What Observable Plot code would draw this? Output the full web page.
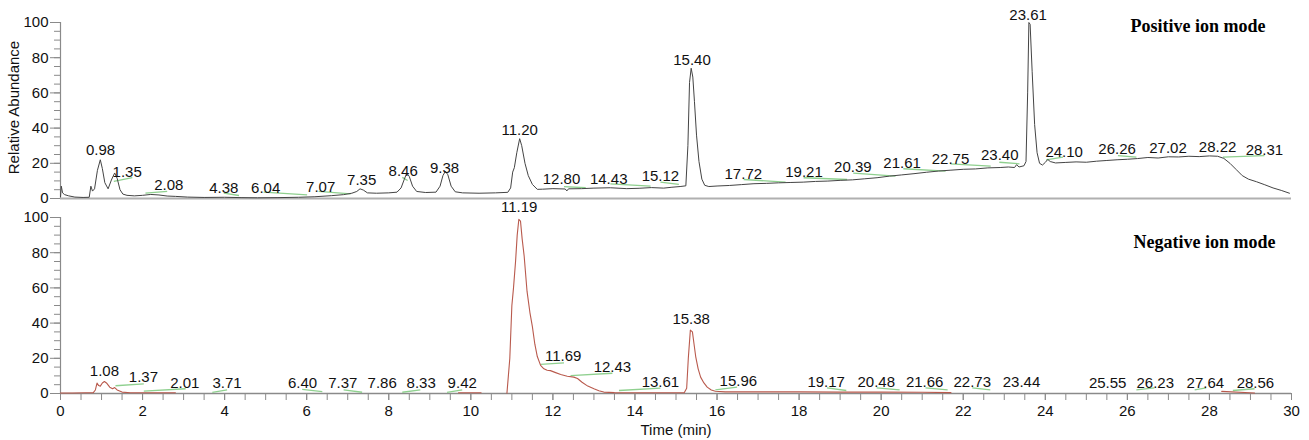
<!DOCTYPE html>
<html><head><meta charset="utf-8">
<script src="https://cdn.jsdelivr.net/npm/d3@7"></script>
<script src="https://cdn.jsdelivr.net/npm/@observablehq/plot@0.6"></script>
<style>
body{margin:0;background:#fff;}
#chart{position:relative;width:1309px;height:440px;}
#chart svg{position:absolute;left:0;overflow:visible;}
</style></head><body><div id="chart"></div>
<script>
// ---------- Positive ion mode trace ----------
const posTime = [0.00,0.02,0.05,0.10,0.20,0.35,0.55,0.70,0.74,0.78,0.83,0.90,0.97,1.02,1.08,1.16,1.24,1.32,1.38,1.45,1.52,1.62,1.80,2.00,2.20,2.40,2.60,2.80,3.10,3.50,4.00,4.40,4.80,5.30,5.80,6.20,6.60,6.90,7.10,7.22,7.30,7.38,7.48,7.70,8.00,8.20,8.30,8.38,8.44,8.50,8.58,8.68,8.90,9.15,9.25,9.32,9.38,9.44,9.52,9.62,9.80,10.20,10.60,10.90,10.97,11.02,11.06,11.12,11.19,11.24,11.32,11.40,11.50,11.62,11.75,12.00,12.30,12.34,12.38,12.70,13.00,13.40,13.80,14.10,14.40,14.70,14.90,15.10,15.24,15.29,15.33,15.37,15.41,15.45,15.50,15.56,15.63,15.70,15.80,16.00,16.30,16.60,16.90,17.20,17.50,17.80,18.10,18.40,18.70,19.00,19.30,19.60,19.90,20.20,20.50,20.80,21.10,21.40,21.70,22.00,22.30,22.60,22.90,23.10,23.25,23.30,23.36,23.48,23.53,23.57,23.60,23.63,23.68,23.74,23.80,23.86,23.93,24.00,24.06,24.12,24.25,24.50,24.75,25.00,25.25,25.50,25.75,26.00,26.25,26.50,26.75,27.00,27.25,27.50,27.75,28.00,28.20,28.35,28.50,28.65,28.80,28.95,29.15,29.35,29.55,29.75,29.95];
const posAbund = [1.0,7.0,3.2,2.2,1.5,0.8,0.6,0.7,7.0,4.2,5.5,16.0,22.0,17.0,9.0,5.5,10.5,14.5,11.5,5.0,2.5,1.8,1.5,1.8,2.3,2.0,1.4,1.2,0.8,0.6,0.7,0.5,0.4,0.5,0.7,1.0,1.6,2.2,3.0,4.0,5.5,4.8,3.2,3.0,3.2,3.6,6.0,11.0,14.5,12.5,7.0,4.0,3.4,3.6,7.0,13.0,15.5,13.5,7.0,3.8,3.2,3.0,3.2,3.5,6.0,15.0,17.5,26.0,34.0,30.0,20.0,13.0,8.0,5.2,5.3,5.6,5.4,4.3,5.5,5.6,5.9,6.1,5.6,5.8,6.2,5.9,6.4,6.8,7.2,30.0,66.0,74.0,69.0,55.0,36.0,21.0,11.0,7.5,6.8,7.1,7.4,7.9,8.4,8.6,8.9,9.1,9.3,9.7,9.9,10.3,10.6,11.2,11.8,12.7,13.4,14.1,14.9,15.6,16.1,16.6,16.8,17.4,17.6,17.9,17.6,19.2,17.9,18.6,21.0,60.0,100.0,99.0,72.0,42.0,26.0,20.0,19.0,20.5,22.2,21.0,20.2,20.5,20.8,20.6,21.2,21.6,22.0,22.3,22.7,23.3,23.0,23.7,23.6,24.0,23.8,24.2,24.0,22.8,20.0,16.5,13.0,11.0,9.5,7.8,6.0,4.6,3.0];

// ---------- Negative ion mode trace (NaN = trace not drawn) ----------
const negTime = [0.00,0.30,0.60,0.80,0.85,0.89,0.93,0.97,1.02,1.07,1.12,1.20,1.27,1.32,1.38,1.50,1.70,2.20,2.80,2.85,9.70,10.25,10.30,10.88,10.95,11.00,11.04,11.09,11.13,11.17,11.21,11.25,11.30,11.37,11.44,11.50,11.56,11.62,11.70,11.78,11.86,11.94,12.05,12.19,12.35,12.51,12.60,12.71,12.85,13.00,13.12,13.24,13.50,14.00,15.20,15.26,15.30,15.35,15.40,15.44,15.48,15.54,15.60,15.68,15.76,15.86,15.96,16.20,17.00,18.00,19.00,20.00,21.00,21.70,21.75,28.30,29.10];
const negAbund = [0.3,0.3,0.4,0.5,2.0,5.9,4.5,4.2,6.0,6.8,6.0,3.6,2.7,3.4,2.0,0.8,0.4,0.4,0.4,NaN,0.4,0.4,NaN,0.2,20,50,60,75,90,99,98,88,78,58,46,38,28,21,16,14,13.2,13.0,12.0,10.8,9.8,9.3,8.5,6.4,4.2,2.7,1.6,0.8,0.5,0.4,0.4,3,20,36,35,28,21,14,9.3,6,3.6,2,1.3,0.9,0.9,0.9,0.8,0.8,0.7,0.5,NaN,1.2,0.3];

// ---------- Peak labels (text, anchor time, anchor abundance) ----------
const posLabels = ["0.98","1.35","2.08","4.38","6.04","7.07","7.35","8.46","9.38","11.20","12.80","14.43","15.12","15.40","17.72","19.21","20.39","21.61","22.75","23.40","23.61","24.10","26.26","27.02","28.22","28.31"];
const posLabelT = [0.975,1.625,2.64,3.98,5.0,6.34,7.34,8.35,9.36,11.19,12.21,13.36,14.62,15.39,16.64,18.12,19.31,20.51,21.69,22.89,23.58,24.46,25.75,26.99,28.2,29.34];
const posLabelV = [27.3,14.8,7.6,6.1,6.1,6.3,10.5,15.5,17.4,38.9,10.8,10.8,12.5,78.8,13.6,14.8,17.6,20.3,22.6,24.4,104.4,26.3,27.8,28.8,29.0,27.4];

const negLabels = ["1.08","1.37","2.01","3.71","6.40","7.37","7.86","8.33","9.42","11.19","11.69","12.43","13.61","15.38","15.96","19.17","20.48","21.66","22.73","23.44","25.55","26.23","27.64","28.56"];
const negLabelT = [1.07,2.02,3.03,4.06,5.9,6.88,7.84,8.79,9.79,11.18,12.25,13.45,14.62,15.37,16.52,18.66,19.88,21.06,22.22,23.42,25.52,26.68,27.9,29.12];
const negLabelV = [12.5,9.1,5.9,5.9,5.9,5.9,5.9,5.9,5.9,105.6,21.0,14.8,6.25,42.0,6.8,6.25,6.25,6.25,6.25,6.25,6.0,6.0,6.0,6.0];

// ---------- Green label connector segments ----------
const posSegT1 = [1.30,2.07,3.98,4.95,6.29,8.33,12.27,13.40,14.62,16.65,18.11,19.32,20.54,21.69,22.88,24.02,25.77,28.33];
const posSegV1 = [9.7,3.0,3.0,3.6,4.0,12.0,6.8,8.3,9.3,10.8,11.8,14.4,16.9,19.7,20.6,22.0,24.4,23.5];
const posSegT2 = [1.75,2.60,4.35,6.01,7.07,8.46,12.80,14.38,15.07,17.67,19.17,20.35,21.57,22.67,23.37,24.43,26.22,29.34];
const posSegV2 = [11.8,4.1,1.7,2.1,2.6,10.2,6.1,7.0,8.0,9.3,10.8,12.7,15.5,18.4,19.7,23.5,23.5,24.4];

const negSegT1 = [1.34,2.03,3.70,5.89,6.90,8.33,9.42,11.70,12.43,13.61,15.96,18.68,19.89,21.08,22.22,26.22,27.64,28.57];
const negSegV1 = [4.4,1.3,0.7,2.3,2.1,0.7,0.7,16.5,10.2,1.7,2.1,3.2,3.2,3.2,3.2,2.1,2.1,1.7];
const negSegT2 = [2.03,3.05,4.06,6.38,7.35,8.77,9.79,12.27,13.45,14.62,16.49,19.15,20.45,21.62,22.66,26.66,27.92,29.10];
const negSegV2 = [5.5,2.7,2.1,1.1,0.7,2.1,2.1,17.4,11.5,3.0,3.6,1.7,2.1,2.1,2.1,3.2,3.2,2.7];

const yMinorTicks = d3.range(0, 101, 5);
const yMajorTicks = d3.range(0, 101, 20);
const xMinorTicks = d3.range(0, 30.001, 0.5);
const xMajorTicks = d3.range(0, 31, 2);

const SANS = "'Liberation Sans', Arial, Helvetica, sans-serif";
const SERIF = "'Liberation Serif', 'Times New Roman', serif";
const AXIS = "#8a8a8a";
const INK = "#111";
const GREEN = "#8fd08f";
const FS = 15;

const common = {
  width: 1309, marginLeft: 60, marginRight: 18,
  x: {domain: [0, 30], axis: null},
  y: {domain: [0, 100], axis: null},
  style: {fontFamily: SANS, fontSize: FS + "px", color: INK, background: "transparent", overflow: "visible"}
};

function yAxes() {
  return [
    Plot.axisY(yMinorTicks, {tickSize: 6, tickFormat: () => "", stroke: AXIS, label: null}),
    Plot.axisY(yMajorTicks, {tickSize: 10, tickPadding: 2, stroke: AXIS, fill: INK, fontSize: FS, label: null}),
    Plot.ruleX([0], {stroke: AXIS, strokeWidth: 1.2})
  ];
}

const topPlot = Plot.plot({
  ...common, height: 210, marginTop: 22, marginBottom: 12,
  marks: [
    ...yAxes(),
    Plot.ruleY([0], {stroke: "#b0b0b0", strokeWidth: 2}),
    Plot.link(posSegT1, {x1: posSegT1, y1: posSegV1, x2: posSegT2, y2: posSegV2, stroke: GREEN, strokeWidth: 1.3}),
    Plot.line(posTime, {x: posTime, y: posAbund, stroke: "#444", strokeWidth: 1}),
    Plot.text(posLabels, {x: posLabelT, y: posLabelV, text: d => d, fill: INK, fontSize: FS}),
    Plot.text(["Relative Abundance"], {frameAnchor: "left", textAnchor: "middle", lineAnchor: "middle", rotate: -90, dx: -46, dy: -3, fill: INK, fontSize: FS}),
    Plot.text(["Positive ion mode"], {frameAnchor: "top-right", textAnchor: "end", lineAnchor: "middle", dx: -26, dy: 4, fontFamily: SERIF, fontWeight: "bold", fontSize: 18, fill: "#000"})
  ]
});
topPlot.style.top = "0px";

const bottomPlot = Plot.plot({
  ...common, height: 230, marginTop: 7, marginBottom: 47,
  marks: [
    ...yAxes(),
    Plot.axisX(xMinorTicks, {tickSize: 7, tickFormat: () => "", stroke: AXIS, label: null}),
    Plot.axisX(xMajorTicks, {tickSize: 7, tickPadding: 5, stroke: AXIS, fill: INK, fontSize: FS, label: null}),
    Plot.ruleY([0], {stroke: AXIS, strokeWidth: 1.5}),
    Plot.link(negSegT1, {x1: negSegT1, y1: negSegV1, x2: negSegT2, y2: negSegV2, stroke: GREEN, strokeWidth: 1.3}),
    Plot.line(negTime, {x: negTime, y: negAbund, stroke: "#b95a4d", strokeWidth: 1.1}),
    Plot.text(negLabels, {x: negLabelT, y: negLabelV, text: d => d, fill: INK, fontSize: FS}),
    Plot.text(["Time (min)"], {frameAnchor: "bottom", textAnchor: "middle", lineAnchor: "middle", dy: 37, fill: INK, fontSize: FS}),
    Plot.text(["Negative ion mode"], {frameAnchor: "top-right", textAnchor: "end", lineAnchor: "middle", dx: -16, dy: 25, fontFamily: SERIF, fontWeight: "bold", fontSize: 18, fill: "#000"})
  ]
});
bottomPlot.style.top = "210px";

const chart = document.getElementById("chart");
chart.appendChild(topPlot);
chart.appendChild(bottomPlot);
</script></body></html>
